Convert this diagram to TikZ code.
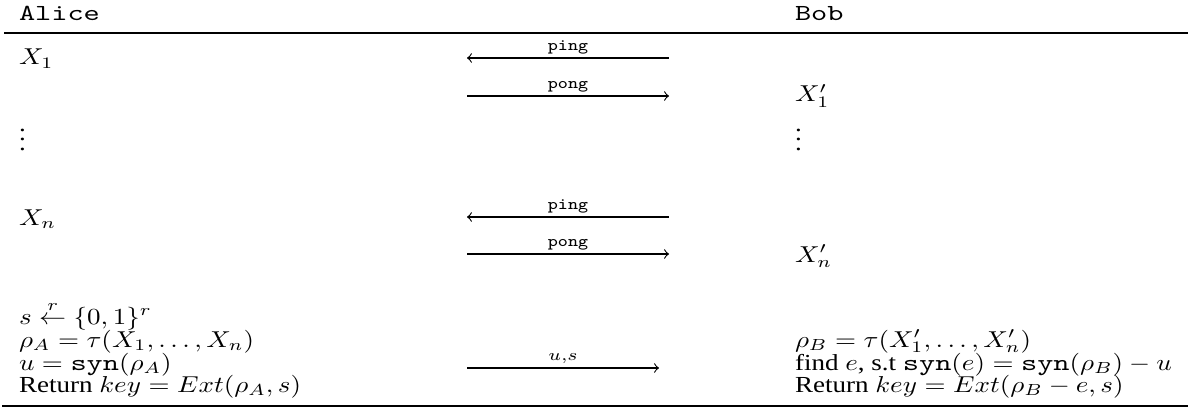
\documentclass[tikz,border=0pt]{standalone}
\usepackage[no-math]{fontspec}
\usepackage{graphicx}
\setmainfont{Liberation Serif}
\newfontfamily\courfam[FakeStretch=1.14]{Latin Modern Mono}
\newcommand{\synop}{\mbox{\courfam syn}}
\newcommand{\vs}[1]{\scalebox{1}[0.85]{#1}}
\begin{document}
\begin{tikzpicture}[x=0.37pt,y=-0.37pt,
  txt/.style={anchor=base west,inner sep=0pt,outer sep=0pt,font=\fontsize{10}{12}\selectfont},
  msg/.style={line width=0.4pt},
  lbl/.style={anchor=base,inner sep=0pt,outer sep=0pt,font=\fontsize{10}{12}\selectfont},
  ttl/.style={lbl,font=\fontsize{7}{8}\selectfont\ttfamily},
  rule/.style={line width=0.8pt}]
\useasboundingbox (0,0) rectangle (1188,410);
% header
\node[txt] (alice) at (19,21) {\vs{\courfam Alice}};
\node[txt] (bob) at (795,21) {\vs{\courfam Bob}};
\coordinate (tl) at (4,33);
\coordinate (tr) at (1188,33);
\draw[rule] (tl) -- (tr);
% rows
\node[txt] (x1) at (19,65) {\vs{$X_1$}};
\node[txt] (x1p) at (795,102) {\vs{$X_1'$}};
\node[txt] (ad) at (19,150) {\vs{$\vdots$}};
\node[txt] (bd) at (795,150) {\vs{$\vdots$}};
\node[txt] (xn) at (19,225) {\vs{$X_n$}};
\node[txt] (xnp) at (795,262) {\vs{$X_n'$}};
\node[txt] (s) at (19,324) {\vs{$s \stackrel{r}{\leftarrow} \{0,1\}^r$}};
\node[txt] (rhoa) at (19,347) {\vs{$\rho_A = \tau(X_1,\ldots,X_n)$}};
\node[txt] (rhob) at (795,347) {\vs{$\rho_B = \tau(X_1',\ldots,X_n')$}};
\node[txt] (ua) at (19,370) {\vs{$u = \synop(\rho_A)$}};
\node[txt] (find) at (795,370) {\vs{find $e$, s.t $\synop(e) = \synop(\rho_B) - u$}};
\node[txt] (reta) at (19,392) {\vs{Return $key = Ext(\rho_A, s)$}};
\node[txt] (retb) at (795,392) {\vs{Return $key = Ext(\rho_B - e, s)$}};
% messages
\coordinate (m1a) at (467,58);  \coordinate (m1b) at (669,58);
\coordinate (m2a) at (467,96);  \coordinate (m2b) at (669,96);
\coordinate (m3a) at (467,217); \coordinate (m3b) at (669,217);
\coordinate (m4a) at (467,254); \coordinate (m4b) at (669,254);
\coordinate (m5a) at (467,368); \coordinate (m5b) at (659,368);
\draw[msg,<-] (m1a) -- node[ttl,above=1.6pt] (l1) {\vs{ping}} (m1b);
\draw[msg,->] (m2a) -- node[ttl,above=1.6pt] (l2) {\vs{pong}} (m2b);
\draw[msg,<-] (m3a) -- node[ttl,above=1.6pt] (l3) {\vs{ping}} (m3b);
\draw[msg,->] (m4a) -- node[ttl,above=1.6pt] (l4) {\vs{pong}} (m4b);
\draw[msg,->] (m5a) -- node[lbl,above=1.6pt] (l5) {\vs{$\scriptstyle u,s$}} (m5b);
% bottom rule
\coordinate (bl) at (2,406);
\coordinate (br) at (1188,406);
\draw[rule] (bl) -- (br);
\end{tikzpicture}
\end{document}
